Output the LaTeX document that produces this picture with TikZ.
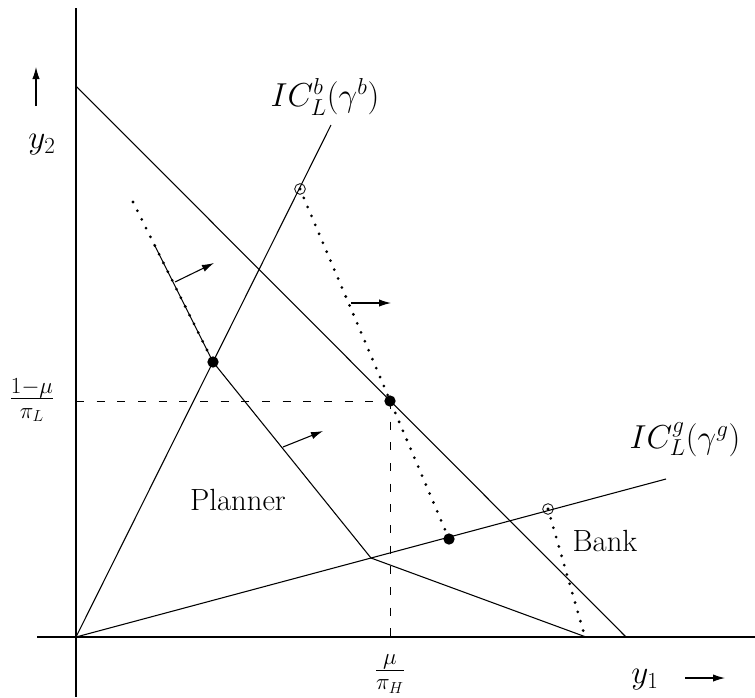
\documentclass[tikz,border=0pt]{standalone}
\usetikzlibrary{arrows.meta}
\begin{document}
\begin{tikzpicture}[x=0.75pt,y=-0.75pt,
  ax/.style={line width=1pt},
  ln/.style={line width=0.8pt},
  dotln/.style={line width=2.3pt, dash pattern=on 0pt off 7.3pt, line cap=round},
  dsh/.style={line width=0.7pt, dash pattern=on 6pt off 9.5pt},
  arr/.style={line width=0.8pt, -{Latex[length=9pt,width=5.5pt]}},
  bigdot/.style={circle, fill, inner sep=0pt, minimum size=8.5pt},
  opendot/.style={circle, draw, line width=0.6pt, inner sep=0pt, minimum size=8pt},
  lbl/.style={font=\fontsize{23}{27}\selectfont, inner sep=0pt}]
\useasboundingbox (0,0) rectangle (755,697);
% axes
\coordinate (O) at (76,637);
\coordinate (ytop) at (76,8);
\coordinate (ybot) at (76,697);
\coordinate (xl) at (37,637);
\coordinate (xr) at (755,637);
\draw[ax] (ytop) -- (ybot);
\draw[ax] (xl) -- (xr);
% budget line
\coordinate (B1) at (76,86);
\coordinate (B2) at (626,637);
\draw[ln] (B1) -- (B2);
% incentive constraints
\coordinate (ICb) at (331,125);
\coordinate (ICg) at (666,479);
\draw[ln] (O) -- (ICb);
\draw[ln] (O) -- (ICg);
% equilibrium point and dashed guides
\node[bigdot] (E) at (390,401) {};
\coordinate (Ey) at (76,401);
\coordinate (Ex) at (390,637);
\draw[dsh] (Ey) -- (E.center);
\draw[dsh] (E.center) -- (Ex);
% planner
\node[bigdot] (P) at (213,362) {};
\coordinate (Ptop) at (133,202);
\coordinate (Ps) at (154,244);
\coordinate (K) at (371,558);
\coordinate (Pend) at (586,637);
\draw[dotln] (Ptop) -- (P.center);
\draw[ln] (Ps) -- (P.center) -- (K) -- (Pend);
% bank dotted curves
\node[opendot] (C1) at (300,189) {};
\node[bigdot] (D) at (449,539) {};
\draw[dotln] (C1.center) -- (D.center);
\fill (C1.center) circle (1.3);
\node[opendot] (C2) at (548,509) {};
\coordinate (C2end) at (585,637);
\draw[dotln] (C2.center) -- (C2end);
\fill (C2.center) circle (1.3);
% arrows
\coordinate (a1s) at (175,282); \coordinate (a1e) at (214,263);
\coordinate (a2s) at (283,447); \coordinate (a2e) at (323,431);
\coordinate (a3s) at (351,303); \coordinate (a3e) at (391,303);
\coordinate (a4s) at (36,106); \coordinate (a4e) at (36,67);
\coordinate (a5s) at (685,678); \coordinate (a5e) at (725,678);
\draw[arr] (a1s) -- (a1e);
\draw[arr] (a2s) -- (a2e);
\draw[arr] (a3s) -- (a3e);
\draw[arr] (a4s) -- (a4e);
\draw[arr] (a5s) -- (a5e);
% labels
\node[lbl] (lb) at (325,97) {$IC_L^b(\gamma^b)$};
\node[lbl] (lg) at (685,440) {$IC_L^g(\gamma^g)$};
\node[lbl] (ly2) at (42,145) {$y_2$};
\node[lbl] (ly1) at (645,680) {$y_1$};
\node[lbl] (lmu) at (390,674) {$\frac{\mu}{\pi_H}$};
\node[lbl] (lmu2) at (32,400) {$\frac{1-\mu}{\pi_L}$};
\node[lbl] (lp) at (238,500) {Planner};
\node[lbl] (lbk) at (605,541) {Bank};
\end{tikzpicture}
\end{document}
